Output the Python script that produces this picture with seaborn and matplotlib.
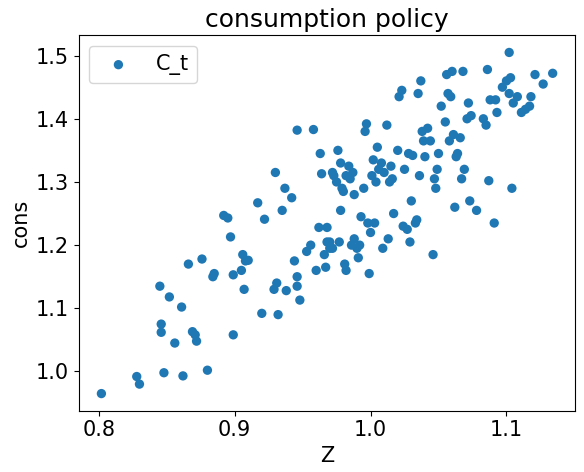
import matplotlib
matplotlib.use("Agg")
import matplotlib.pyplot as plt
import seaborn as sns

pts = [(0.802,0.965),(0.828,0.992),(0.830,0.980),(0.845,1.135),(0.846,1.075),(0.846,1.062),(0.848,0.998),(0.852,1.118),(0.856,1.045),(0.861,1.102),(0.862,0.993),(0.866,1.170),(0.869,1.063),(0.871,1.058),(0.872,1.048),(0.876,1.178),(0.880,1.002),(0.884,1.150),(0.885,1.155),(0.892,1.247),(0.895,1.243),(0.897,1.213),(0.899,1.153),(0.899,1.058),(0.905,1.160),(0.906,1.185),(0.907,1.130),(0.908,1.175),(0.910,1.176),(0.917,1.267),(0.920,1.092),(0.922,1.241),(0.929,1.130),(0.930,1.315),(0.931,1.140),(0.932,1.090),(0.935,1.255),(0.937,1.290),(0.938,1.128),(0.942,1.275),(0.944,1.175),(0.946,1.382),(0.946,1.150),(0.946,1.135),(0.948,1.113),(0.953,1.190),(0.956,1.200),(0.958,1.383),(0.960,1.160),(0.962,1.228),(0.963,1.345),(0.964,1.313),(0.966,1.185),(0.967,1.165),(0.968,1.205),(0.968,1.228),(0.970,1.195),(0.970,1.205),(0.972,1.315),(0.972,1.195),(0.973,1.310),(0.975,1.300),(0.976,1.350),(0.977,1.205),(0.978,1.330),(0.978,1.255),(0.979,1.290),(0.980,1.285),(0.981,1.170),(0.982,1.160),(0.982,1.310),(0.984,1.325),(0.985,1.305),(0.986,1.200),(0.987,1.315),(0.988,1.210),(0.988,1.280),(0.990,1.195),(0.991,1.180),(0.992,1.200),(0.993,1.245),(0.995,1.290),(0.996,1.380),(0.997,1.392),(0.998,1.235),(0.999,1.155),(1.000,1.220),(1.001,1.310),(1.002,1.335),(1.003,1.235),(1.004,1.300),(1.005,1.355),(1.006,1.320),(1.008,1.330),(1.009,1.195),(1.010,1.315),(1.012,1.390),(1.013,1.210),(1.014,1.300),(1.015,1.325),(1.016,1.305),(1.017,1.250),(1.020,1.350),(1.021,1.435),(1.023,1.445),(1.024,1.230),(1.025,1.320),(1.027,1.225),(1.028,1.345),(1.029,1.205),(1.030,1.270),(1.031,1.342),(1.033,1.235),(1.034,1.240),(1.035,1.440),(1.036,1.310),(1.037,1.460),(1.038,1.380),(1.039,1.365),(1.040,1.340),(1.042,1.385),(1.044,1.365),(1.046,1.185),(1.047,1.305),(1.048,1.290),(1.049,1.320),(1.050,1.345),(1.052,1.420),(1.055,1.395),(1.056,1.470),(1.057,1.440),(1.058,1.365),(1.059,1.435),(1.060,1.475),(1.061,1.375),(1.062,1.260),(1.063,1.340),(1.064,1.345),(1.066,1.370),(1.067,1.305),(1.068,1.475),(1.069,1.320),(1.071,1.400),(1.072,1.425),(1.073,1.270),(1.074,1.405),(1.078,1.255),(1.083,1.400),(1.085,1.390),(1.086,1.478),(1.087,1.302),(1.088,1.430),(1.091,1.235),(1.092,1.430),(1.093,1.410),(1.097,1.450),(1.100,1.460),(1.102,1.505),(1.102,1.440),(1.103,1.465),(1.104,1.290),(1.105,1.425),(1.108,1.435),(1.111,1.410),(1.114,1.415),(1.117,1.420),(1.118,1.435),(1.121,1.470),(1.127,1.455),(1.134,1.472)]
Z = [p[0] for p in pts]
cons = [p[1] for p in pts]

plt.rcParams["font.size"] = 15

fig, ax = plt.subplots(figsize=(5.84, 4.72), dpi=100)
sns.scatterplot(x=Z, y=cons, ax=ax, color="#1f77b4", s=45, edgecolor="none", label="C_t")
ax.set_title("consumption policy")
ax.set_xlabel("Z")
ax.set_ylabel("cons")
ax.set_xticks([0.8, 0.9, 1.0, 1.1])
ax.legend(loc="upper left")
fig.subplots_adjust(left=0.135, right=0.985, top=0.925, bottom=0.13)
fig.savefig("out.png")
